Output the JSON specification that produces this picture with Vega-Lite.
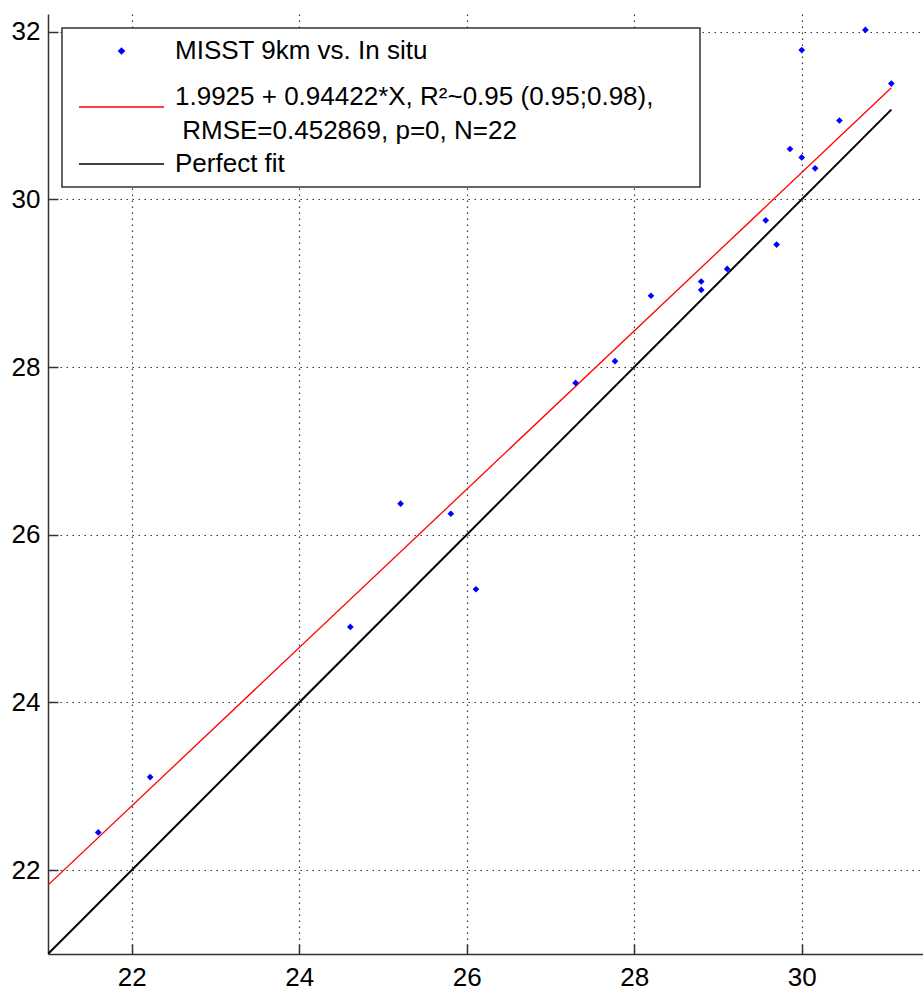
{
  "$schema": "https://vega.github.io/schema/vega-lite/v6.json",
  "width": 875,
  "height": 940,
  "autosize": {"type": "none"},
  "padding": {"left": 48, "top": 14, "right": 0, "bottom": 35},
  "background": "white",
  "config": {
    "font": "Liberation Sans",
    "view": {"stroke": null},
    "axis": {
      "domainColor": "#333333",
      "domainWidth": 1.5,
      "tickColor": "#333333",
      "tickSize": -10,
      "tickWidth": 1.5,
      "grid": true,
      "gridColor": "#333333",
      "gridDash": [1.5, 4.5],
      "gridWidth": 1.2,
      "labelFont": "Liberation Sans",
      "labelFontSize": 26,
      "labelColor": "#000000",
      "format": "d"
    }
  },
  "datasets": {
    "points": [
      {"x": 21.6, "y": 22.45, "series": "MISST 9km vs. In situ"},
      {"x": 22.22, "y": 23.11, "series": "MISST 9km vs. In situ"},
      {"x": 24.61, "y": 24.9, "series": "MISST 9km vs. In situ"},
      {"x": 25.21, "y": 26.37, "series": "MISST 9km vs. In situ"},
      {"x": 25.81, "y": 26.25, "series": "MISST 9km vs. In situ"},
      {"x": 26.11, "y": 25.35, "series": "MISST 9km vs. In situ"},
      {"x": 27.3, "y": 27.81, "series": "MISST 9km vs. In situ"},
      {"x": 27.77, "y": 28.07, "series": "MISST 9km vs. In situ"},
      {"x": 28.2, "y": 28.85, "series": "MISST 9km vs. In situ"},
      {"x": 28.8, "y": 29.02, "series": "MISST 9km vs. In situ"},
      {"x": 28.8, "y": 28.92, "series": "MISST 9km vs. In situ"},
      {"x": 29.11, "y": 29.17, "series": "MISST 9km vs. In situ"},
      {"x": 29.57, "y": 29.75, "series": "MISST 9km vs. In situ"},
      {"x": 29.7, "y": 29.46, "series": "MISST 9km vs. In situ"},
      {"x": 29.86, "y": 30.6, "series": "MISST 9km vs. In situ"},
      {"x": 30.0, "y": 30.5, "series": "MISST 9km vs. In situ"},
      {"x": 30.0, "y": 31.78, "series": "MISST 9km vs. In situ"},
      {"x": 30.16, "y": 30.37, "series": "MISST 9km vs. In situ"},
      {"x": 30.45, "y": 30.94, "series": "MISST 9km vs. In situ"},
      {"x": 30.76, "y": 32.02, "series": "MISST 9km vs. In situ"},
      {"x": 31.07, "y": 31.38, "series": "MISST 9km vs. In situ"}
    ],
    "lines": [
      {"x": 21.0, "y": 21.8211, "series": "1.9925 + 0.94422*X, R²~0.95 (0.95;0.98), RMSE=0.452869, p=0, N=22"},
      {"x": 31.07, "y": 31.3294, "series": "1.9925 + 0.94422*X, R²~0.95 (0.95;0.98), RMSE=0.452869, p=0, N=22"},
      {"x": 21.0, "y": 21.0, "series": "Perfect fit"},
      {"x": 31.07, "y": 31.07, "series": "Perfect fit"}
    ]
  },
  "encoding": {
    "x": {"field": "x", "type": "quantitative", "scale": {"domain": [21, 31.448], "nice": false, "zero": false}, "axis": {"title": null, "values": [22, 24, 26, 28, 30], "labelPadding": 20}},
    "y": {"field": "y", "type": "quantitative", "scale": {"domain": [21, 32.21], "nice": false, "zero": false}, "axis": {"title": null, "values": [22, 24, 26, 28, 30, 32], "labelPadding": 18}},
    "color": {
      "field": "series",
      "type": "nominal",
      "scale": {
        "domain": ["MISST 9km vs. In situ", "1.9925 + 0.94422*X, R²~0.95 (0.95;0.98), RMSE=0.452869, p=0, N=22", "Perfect fit"],
        "range": ["#0000ff", "#ff0000", "#000000"]
      },
      "legend": {
        "title": null,
        "orient": "none",
        "legendX": 14,
        "legendY": 14,
        "padding": 10,
        "strokeColor": "#333333",
        "fillColor": "#ffffff",
        "symbolType": "stroke",
        "symbolSize": 7225,
        "symbolStrokeWidth": 1.5,
        "symbolOffset": 6,
        "clipHeight": 26,
        "labelFont": "Liberation Sans",
        "labelFontSize": 26,
        "labelColor": "#000000",
        "labelOffset": 10,
        "labelLimit": 2000,
        "rowPadding": 7,
        "labelExpr": "datum.label === 'MISST 9km vs. In situ' ? [datum.label, '\u200b'] : split(replace(datum.label, ', RMSE', ',\u00a0\u00a0\u00a0\u00a0\u00a0\u200b|\u200b\u00a0RMSE'), '|')",
        "encoding": {
          "legend": {"strokeWidth": {"value": 1.5}},
          "symbols": {
            "shape": {"condition": [{"test": "datum.value === 'MISST 9km vs. In situ'", "value": "M0,-0.065L0.065,0L0,0.065L-0.065,0Z"}, {"test": "datum.value === 'Perfect fit'", "value": "stroke"}], "value": "M-1,0.235L1,0.235"},
            "fill": {"condition": {"test": "datum.value === 'MISST 9km vs. In situ'", "value": "#0000ff"}, "value": "transparent"},
            "stroke": {"condition": {"test": "datum.value === 'Perfect fit'", "value": "#000000"}, "value": "#ff0000"}
          },
          "labels": {"lineHeight": {"condition": {"test": "datum.value === 'MISST 9km vs. In situ'", "value": 13}, "value": 34}}
        }
      }
    }
  },
  "layer": [
    {
      "data": {"name": "lines"},
      "transform": [{"filter": "datum.series === 'Perfect fit'"}],
      "mark": {"type": "line", "strokeWidth": 2, "clip": true}
    },
    {
      "data": {"name": "lines"},
      "transform": [{"filter": "datum.series !== 'Perfect fit'"}],
      "mark": {"type": "line", "strokeWidth": 1.3, "clip": true}
    },
    {
      "data": {"name": "points"},
      "mark": {"type": "point", "shape": "diamond", "filled": true, "size": 45, "opacity": 1, "clip": true}
    }
  ]
}
